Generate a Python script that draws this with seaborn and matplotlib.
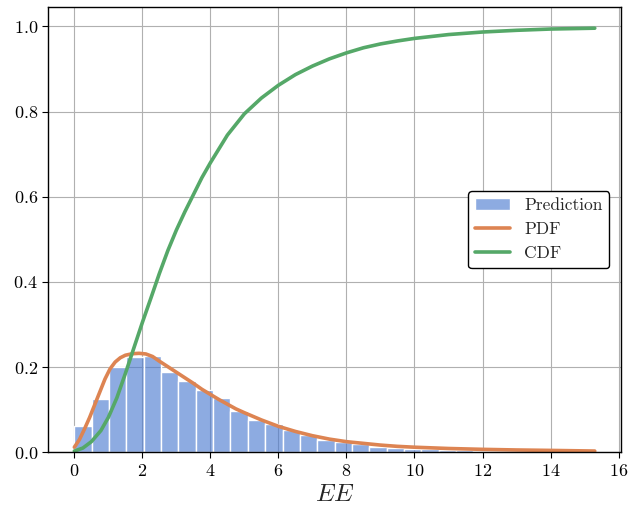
import matplotlib
matplotlib.use('Agg')
import matplotlib.pyplot as plt
import seaborn as sns
import pandas as pd
import numpy as np

# --- data ---
bin_edges = [round(i * 0.51, 2) for i in range(31)]
bar_heights = [0.062, 0.126, 0.201, 0.225, 0.227, 0.189, 0.168, 0.147, 0.128, 0.097,
               0.077, 0.067, 0.052, 0.040, 0.030, 0.024, 0.019, 0.013, 0.010, 0.008,
               0.007, 0.006, 0.005, 0.004, 0.003, 0.003, 0.002, 0.002, 0.001, 0.001]

pdf_x = [0.0, 0.15, 0.3, 0.45, 0.6, 0.75, 0.9, 1.05, 1.2, 1.35, 1.5, 1.7, 1.9, 2.1,
         2.3, 2.5, 2.75, 3.0, 3.25, 3.5, 3.75, 4.0, 4.25, 4.5, 4.75, 5.0, 5.5, 6.0,
         6.5, 7.0, 7.5, 8.0, 8.5, 9.0, 9.5, 10.0, 11.0, 12.0, 13.0, 14.0, 15.3]
pdf_y = [0.012, 0.030, 0.055, 0.082, 0.112, 0.142, 0.172, 0.196, 0.212, 0.222, 0.228,
         0.2315, 0.2325, 0.231, 0.225, 0.214, 0.201, 0.188, 0.175, 0.162, 0.148, 0.136,
         0.124, 0.113, 0.102, 0.093, 0.076, 0.061, 0.049, 0.039, 0.031, 0.025, 0.021,
         0.017, 0.014, 0.012, 0.009, 0.007, 0.0055, 0.0045, 0.003]

cdf_x = [0.0, 0.25, 0.5, 0.78, 1.0, 1.25, 1.5, 1.75, 2.0, 2.25, 2.5, 2.75, 3.0, 3.25,
         3.5, 3.75, 4.0, 4.5, 5.0, 5.5, 6.0, 6.5, 7.0, 7.5, 8.0, 8.5, 9.0, 9.5, 10.0,
         11.0, 12.0, 13.0, 14.0, 15.3]
cdf_y = [0.003, 0.010, 0.025, 0.051, 0.082, 0.128, 0.185, 0.245, 0.305, 0.362, 0.420,
         0.474, 0.522, 0.565, 0.605, 0.645, 0.680, 0.745, 0.795, 0.832, 0.862, 0.887,
         0.907, 0.924, 0.938, 0.950, 0.959, 0.966, 0.972, 0.981, 0.987, 0.991, 0.994,
         0.996]

sns.set_style('ticks')
plt.rcParams['font.family'] = 'serif'
plt.rcParams['font.serif'] = ['cmr10', 'DejaVu Serif']
plt.rcParams['mathtext.fontset'] = 'cm'
plt.rcParams['axes.formatter.use_mathtext'] = True
plt.rcParams['axes.unicode_minus'] = False

fig, ax = plt.subplots(figsize=(6.4, 5.08), dpi=100)
fig.subplots_adjust(left=0.0755, right=0.970, bottom=0.1096, top=0.9856)

hist_df = pd.DataFrame({
    'EE': [(bin_edges[i] + bin_edges[i + 1]) / 2 for i in range(len(bar_heights))],
    'w': bar_heights,
})
sns.histplot(data=hist_df, x='EE', weights='w', bins=bin_edges, stat='count',
             color='#4878d0', alpha=0.62, edgecolor='white', linewidth=1.0,
             label='Prediction', ax=ax)
sns.lineplot(x=pdf_x, y=pdf_y, color='#dd8452', lw=2.6, label='PDF', ax=ax)
sns.lineplot(x=cdf_x, y=cdf_y, color='#55a868', lw=2.6, label='CDF', ax=ax)

ax.set_xlim(-0.765, 16.065)
ax.set_ylim(0, 1.045)
ax.set_xticks(np.arange(0, 17, 2))
ax.set_yticks(np.arange(0, 1.01, 0.2))
ax.grid(True, color='#b0b0b0', lw=0.8)
ax.set_axisbelow(True)
for s in ax.spines.values():
    s.set_color('black')
    s.set_linewidth(1.0)
ax.tick_params(labelsize=13, colors='black', length=4)
ax.set_xlabel('$EE$', fontsize=18)
ax.set_ylabel('')

# histogram first in the legend, like the original
handles, labels = ax.get_legend_handles_labels()
order = [labels.index(l) for l in ['Prediction', 'PDF', 'CDF']]
leg = ax.legend([handles[i] for i in order], [labels[i] for i in order],
                loc='center right', fontsize=12.5, frameon=True, framealpha=1,
                bbox_to_anchor=(0.995, 0.50))
leg.get_frame().set_edgecolor('black')

fig.savefig('out.png', dpi=100)
